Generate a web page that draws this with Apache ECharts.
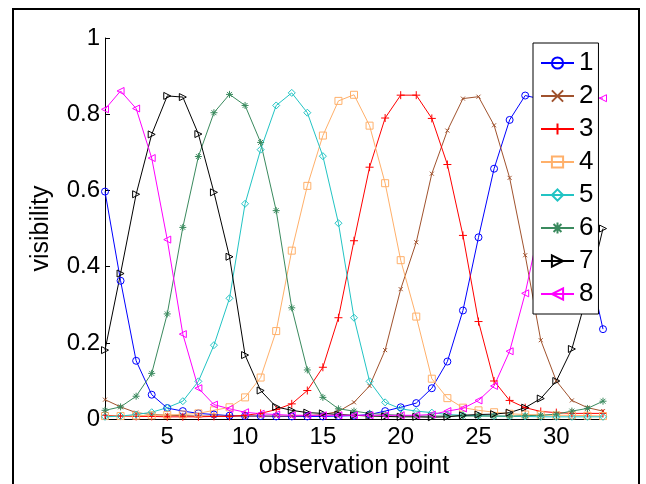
<!DOCTYPE html>
<html>
<head>
<meta charset="utf-8">
<script src="https://cdn.jsdelivr.net/npm/echarts@6/dist/echarts.min.js"></script>
<style>
html,body{margin:0;padding:0;background:#fff;}
#chart{width:646px;height:484px;}
</style>
</head>
<body>
<div id="chart"></div>
<script>
// observation points 1..33
const xs = [1,2,3,4,5,6,7,8,9,10,11,12,13,14,15,16,17,18,19,20,21,22,23,24,25,26,27,28,29,30,31,32,33];
const names = ['1','2','3','4','5','6','7','8'];
const xTicks = [5,10,15,20,25,30];

const s1 = [0.597,0.363,0.153,0.064,0.029,0.021,0.015,0.012,0.009,0.008,0.008,0.007,0.007,0.007,0.007,0.008,0.009,0.012,0.021,0.031,0.042,0.081,0.151,0.285,0.477,0.657,0.785,0.849,0.840,0.760,0.610,0.420,0.236];
const s2 = [0.051,0.032,0.017,0.012,0.010,0.009,0.008,0.008,0.008,0.008,0.008,0.008,0.008,0.009,0.012,0.020,0.044,0.087,0.181,0.341,0.464,0.644,0.757,0.841,0.846,0.771,0.633,0.430,0.207,0.100,0.049,0.030,0.021];
const s3 = [0.010,0.008,0.007,0.007,0.006,0.006,0.006,0.007,0.007,0.010,0.015,0.025,0.040,0.075,0.136,0.266,0.468,0.661,0.790,0.850,0.850,0.789,0.668,0.482,0.256,0.100,0.049,0.030,0.020,0.017,0.015,0.015,0.015];
const s4 = [0.008,0.008,0.009,0.010,0.011,0.012,0.015,0.023,0.031,0.057,0.109,0.231,0.442,0.612,0.744,0.835,0.851,0.770,0.619,0.417,0.269,0.106,0.055,0.030,0.023,0.018,0.014,0.012,0.011,0.010,0.010,0.009,0.008];
const s5 = [0.006,0.008,0.012,0.018,0.030,0.047,0.099,0.194,0.317,0.565,0.707,0.823,0.856,0.804,0.690,0.514,0.266,0.099,0.044,0.027,0.021,0.017,0.012,0.010,0.009,0.008,0.007,0.007,0.006,0.006,0.006,0.006,0.006];
const s6 = [0.023,0.032,0.060,0.120,0.276,0.503,0.689,0.804,0.852,0.823,0.726,0.547,0.292,0.129,0.057,0.027,0.021,0.015,0.012,0.010,0.008,0.008,0.008,0.008,0.008,0.008,0.008,0.009,0.010,0.013,0.021,0.028,0.047];
const s7 = [0.181,0.382,0.590,0.747,0.848,0.845,0.748,0.595,0.426,0.168,0.075,0.032,0.023,0.017,0.015,0.012,0.010,0.008,0.007,0.006,0.006,0.005,0.006,0.010,0.012,0.013,0.017,0.030,0.054,0.100,0.184,0.330,0.500];
const s8 = [0.813,0.861,0.815,0.685,0.471,0.223,0.081,0.038,0.027,0.018,0.014,0.012,0.010,0.010,0.010,0.010,0.010,0.010,0.010,0.010,0.010,0.012,0.021,0.028,0.049,0.087,0.178,0.330,0.520,0.690,0.800,0.845,0.842];

const seriesValues = [s1,s2,s3,s4,s5,s6,s7,s8];
const colors = ['#0000FF','#A0522D','#FF0000','#FFB06A','#22C4C4','#3A8A5E','#000000','#FF00FF'];
const symbols = [
  'circle',
  'path://M0,0L10,10M10,0L0,10',
  'path://M0,5L10,5M5,0L5,10',
  'path://M0,0L10,0L10,10L0,10Z',
  'path://M5,0L10,5L5,10L0,5Z',
  'path://M0,5L10,5M5,0L5,10M1.5,1.5L8.5,8.5M8.5,1.5L1.5,8.5',
  'path://M0,0L10,5L0,10Z',
  'path://M10,0L0,5L10,10Z'
];
const symSizes = [7,4,8,7,7,7,7,7];

const FONT = 'Liberation Sans, Arial, sans-serif';
const chart = echarts.init(document.getElementById('chart'), null, {renderer:'canvas'});

const series = seriesValues.map((vals, i) => ({
  name: names[i],
  type: 'line',
  data: xs.map((x, j) => [x, vals[j]]),
  symbol: symbols[i],
  symbolSize: symSizes[i],
  showSymbol: true,
  animation: false,
  lineStyle: {color: colors[i], width: 1},
  itemStyle: {color: 'none', borderColor: colors[i], borderWidth: 1},
  emphasis: {disabled: true}
}));

chart.setOption({
  animation: false,
  backgroundColor: '#fff',
  grid: {left: 105, top: 38, width: 498, height: 385, containLabel: false},
  xAxis: {
    type: 'value', min: 1, max: 33,
    name: 'observation point', nameLocation: 'middle', nameGap: 30,
    nameTextStyle: {fontSize: 25, fontFamily: FONT, color: '#000'},
    axisLine: {show: true, onZero: false, lineStyle: {color: '#000', width: 1}},
    axisTick: {show: true, inside: true, length: 5, customValues: xTicks, lineStyle: {color: '#000'}},
    axisLabel: {show: true, customValues: xTicks, fontSize: 24, fontFamily: FONT, color: '#000', margin: 6},
    splitLine: {show: false}
  },
  yAxis: {
    type: 'value', min: 0, max: 1, interval: 0.2,
    name: 'visibility', nameLocation: 'middle', nameGap: 51,
    nameTextStyle: {fontSize: 25, fontFamily: FONT, color: '#000'},
    axisLine: {show: true, onZero: false, lineStyle: {color: '#000', width: 1}},
    axisTick: {show: true, inside: true, length: 5, lineStyle: {color: '#000'}},
    axisLabel: {fontSize: 24, fontFamily: FONT, color: '#000', margin: 5},
    splitLine: {show: false}
  },
  legend: {
    data: names,
    orient: 'vertical',
    left: 533, top: 43,
    padding: [7, 5, 7, 7],
    itemWidth: 33, itemHeight: 14, itemGap: 7,
    borderColor: '#000', borderWidth: 1, backgroundColor: '#fff',
    textStyle: {fontSize: 26, fontFamily: FONT, color: '#000', lineHeight: 25},
    selectedMode: false
  },
  graphic: [{
    type: 'rect', z: 100, silent: true,
    shape: {x: 13, y: 9, width: 626, height: 520},
    style: {fill: 'none', stroke: '#000', lineWidth: 2}
  }],
  series: series
});
</script>
</body>
</html>
